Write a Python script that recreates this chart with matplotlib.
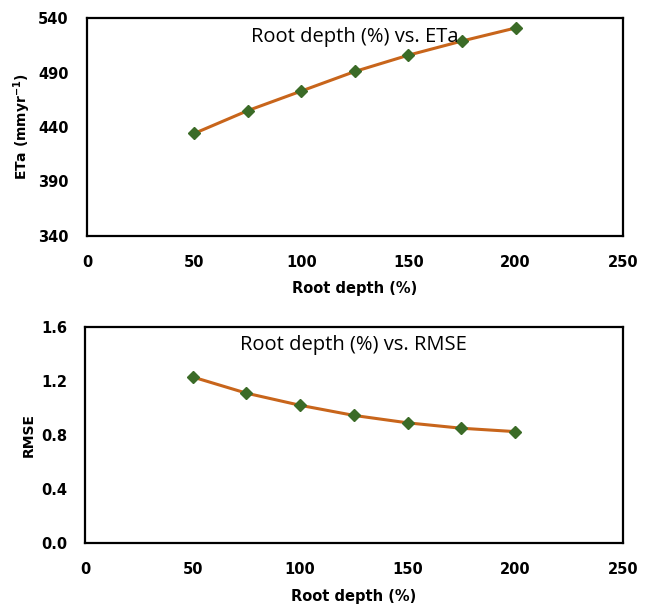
import matplotlib
matplotlib.use("Agg")
import matplotlib.pyplot as plt

# Dados
root_depth = [50, 75, 100, 125, 150, 175, 200]
eta = [434, 455, 473, 491, 506, 519, 531]
rmse = [1.23, 1.11, 1.02, 0.945, 0.89, 0.85, 0.825]

cor_linha = '#C8651B'
cor_marcador = '#3B6B27'

fig = plt.figure(figsize=(6.51, 6.06), dpi=100)

def painel(ax, y, titulo, ylabel, ylim, yticks, fmt):
	ax.plot(root_depth, y, color=cor_linha, lw=2.2, marker='D', ms=6,
		mfc=cor_marcador, mec=cor_marcador, zorder=3)
	ax.set_xlim(0, 250)
	ax.set_xticks([0, 50, 100, 150, 200, 250])
	ax.set_ylim(*ylim)
	ax.set_yticks(yticks)
	ax.set_yticklabels([fmt % v for v in yticks])
	ax.tick_params(axis='y', length=0, labelsize=10.5, pad=13)
	ax.tick_params(axis='x', length=0, labelsize=10.5, pad=14)
	for lbl in ax.get_xticklabels() + ax.get_yticklabels():
		lbl.set_fontweight('bold')
	for s in ax.spines.values():
		s.set_linewidth(1.6)
		s.set_color('black')
	ax.set_xlabel('Root depth (%)', fontsize=10.5, fontweight='bold', labelpad=8)
	ax.set_ylabel(ylabel, fontsize=10, fontweight='bold', labelpad=4)
	ax.text(0.5, 0.915, titulo, transform=ax.transAxes, ha='center', va='center',
		fontsize=14.5, family=['Open Sans', 'DejaVu Sans'])

ax1 = fig.add_axes([0.1336, 0.611, 0.823, 0.359])
painel(ax1, eta, 'Root depth (%) vs. ETa', r'ETa (mmyr$^{\mathbf{-1}}$)',
	(340, 540), [340, 390, 440, 490, 540], '%d')

ax2 = fig.add_axes([0.1306, 0.104, 0.826, 0.3564])
painel(ax2, rmse, 'Root depth (%) vs. RMSE', 'RMSE',
	(0, 1.6), [0.0, 0.4, 0.8, 1.2, 1.6], '%.1f')

fig.savefig('out.png', dpi=100)
